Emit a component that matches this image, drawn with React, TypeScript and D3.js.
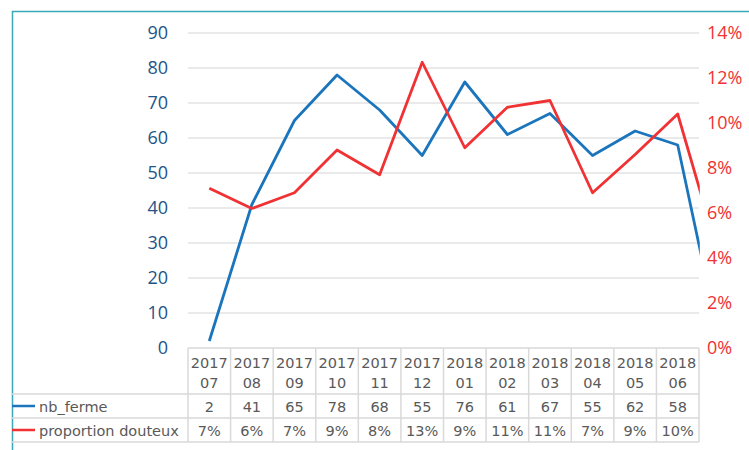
import React, { useRef, useEffect } from "react";
import { select, scaleBand, scaleLinear, line, range } from "d3";

// months (the last one is cut off by the plot edge in the original)
const years = ["2017", "2017", "2017", "2017", "2017", "2017", "2018", "2018", "2018", "2018", "2018", "2018", "2018"];
const months = ["07", "08", "09", "10", "11", "12", "01", "02", "03", "04", "05", "06", "07"];
const nbFerme = [2, 41, 65, 78, 68, 55, 76, 61, 67, 55, 62, 58, 1];
const propDouteux = [0.071, 0.062, 0.069, 0.088, 0.077, 0.127, 0.089, 0.107, 0.110, 0.069, 0.086, 0.104, 0.039];
const leftTicks = [0, 10, 20, 30, 40, 50, 60, 70, 80, 90];
const rightTicks = [0, 0.02, 0.04, 0.06, 0.08, 0.1, 0.12, 0.14];

const BLUE = "#1b75bc";
const RED = "#f03234";
const AXIS_BLUE = "#22548a";
const GRID = "#e3e3e3";
const TABLE = "#d9d9d9";
const TEXT = "#595959";

function App() {
  const svgRef = useRef(null);
  useEffect(() => {
    const svg = select(svgRef.current);
    svg.selectAll("*").remove();
    const left = 188;
    const right = 699;
    const top = 33;
    const bottom = 348;
    const colW = (right - left) / 12;
    const keys = months.map((m, i) => i);
    // only 12 columns of the table fit in the picture
    const shown = keys.slice(0, 12);
    const x = scaleBand().domain(keys).range([left, left + colW * keys.length]);
    const yL = scaleLinear().domain([0, 90]).range([bottom, top]);
    const yR = scaleLinear().domain([0, 0.14]).range([bottom, top]);

    svg.append("defs").append("clipPath").attr("id", "plotclip")
      .append("rect").attr("x", 0).attr("y", 0).attr("width", right + 0.8).attr("height", 450);

    // frame
    svg.append("path").attr("d", "M12.5,450 V11.5 H749")
      .attr("fill", "none").attr("stroke", "#3aa9b6").attr("stroke-width", 1.5);

    // gridlines
    svg.selectAll(".grid").data(leftTicks.slice(1)).join("line")
      .attr("class", "grid")
      .attr("x1", left).attr("x2", right)
      .attr("y1", (d) => yL(d)).attr("y2", (d) => yL(d))
      .attr("stroke", GRID).attr("stroke-width", 1.5);

    // left axis labels
    svg.selectAll(".lt").data(leftTicks).join("text")
      .attr("class", "lt")
      .attr("x", 168).attr("y", (d) => yL(d) + 6)
      .attr("text-anchor", "end")
      .attr("font-family", "'Open Sans', sans-serif").attr("font-size", 18)
      .attr("fill", AXIS_BLUE)
      .text((d) => d);

    // right axis labels
    svg.selectAll(".rt").data(rightTicks).join("text")
      .attr("class", "rt")
      .attr("x", 707).attr("y", (d) => yR(d) + 6)
      .attr("font-family", "'Open Sans', sans-serif").attr("font-size", 18)
      .attr("fill", RED)
      .text((d) => `${Math.round(d * 100)}%`);

    const clipped = svg.append("g").attr("clip-path", "url(#plotclip)");

    // data table
    const rowTops = [bottom, 394, 418, 442];
    svg.append("line").attr("x1", left).attr("x2", right)
      .attr("y1", bottom).attr("y2", bottom).attr("stroke", TABLE).attr("stroke-width", 1.5);
    rowTops.slice(1).forEach((yy) => {
      svg.append("line").attr("x1", 12).attr("x2", right)
        .attr("y1", yy).attr("y2", yy).attr("stroke", TABLE).attr("stroke-width", 1.5);
    });
    svg.selectAll(".vcol").data(range(shown.length + 1)).join("line")
      .attr("class", "vcol")
      .attr("x1", (i) => left + i * colW).attr("x2", (i) => left + i * colW)
      .attr("y1", bottom).attr("y2", 442)
      .attr("stroke", TABLE).attr("stroke-width", 1.5);

    const tf = "'DejaVu Sans', sans-serif";
    const fs = 14.5;
    const cx = (i) => x(i) + x.bandwidth() / 2;
    svg.selectAll(".yr").data(shown).join("text")
      .attr("class", "yr").attr("x", cx).attr("y", 367.5)
      .attr("text-anchor", "middle").attr("font-family", tf).attr("font-size", fs).attr("fill", TEXT)
      .text((i) => years[i]);
    svg.selectAll(".mo").data(shown).join("text")
      .attr("class", "mo").attr("x", cx).attr("y", 387.5)
      .attr("text-anchor", "middle").attr("font-family", tf).attr("font-size", fs).attr("fill", TEXT)
      .text((i) => months[i]);
    svg.selectAll(".v1").data(shown).join("text")
      .attr("class", "v1").attr("x", cx).attr("y", 412)
      .attr("text-anchor", "middle").attr("font-family", tf).attr("font-size", fs).attr("fill", TEXT)
      .text((i) => nbFerme[i]);
    svg.selectAll(".v2").data(shown).join("text")
      .attr("class", "v2").attr("x", cx).attr("y", 436)
      .attr("text-anchor", "middle").attr("font-family", tf).attr("font-size", fs).attr("fill", TEXT)
      .text((i) => `${Math.round(propDouteux[i] * 100)}%`);

    // legend keys in table
    const legend = [
      { name: "nb_ferme", color: BLUE, y: 406 },
      { name: "proportion douteux", color: RED, y: 430 },
    ];
    legend.forEach((l) => {
      svg.append("line").attr("x1", 12).attr("x2", 35).attr("y1", l.y).attr("y2", l.y)
        .attr("stroke", l.color).attr("stroke-width", 2.5);
      svg.append("text").attr("x", 39).attr("y", l.y + 5.5)
        .attr("font-family", tf).attr("font-size", fs).attr("fill", TEXT)
        .text(l.name);
    });

    // series
    const blueLine = line().x((d, i) => cx(i)).y((d) => yL(d));
    const redLine = line().x((d, i) => cx(i)).y((d) => yR(d));
    clipped.append("path").datum(nbFerme).attr("d", blueLine)
      .attr("fill", "none").attr("stroke", BLUE).attr("stroke-width", 2.8).attr("stroke-linejoin", "round");
    clipped.append("path").datum(propDouteux).attr("d", redLine)
      .attr("fill", "none").attr("stroke", RED).attr("stroke-width", 2.8).attr("stroke-linejoin", "round");
  }, []);
  return (
    <svg ref={svgRef} width={749} height={450}
      style={{ position: "absolute", left: 0, top: 0, background: "#fff" }}></svg>
  );
}

export default App;
